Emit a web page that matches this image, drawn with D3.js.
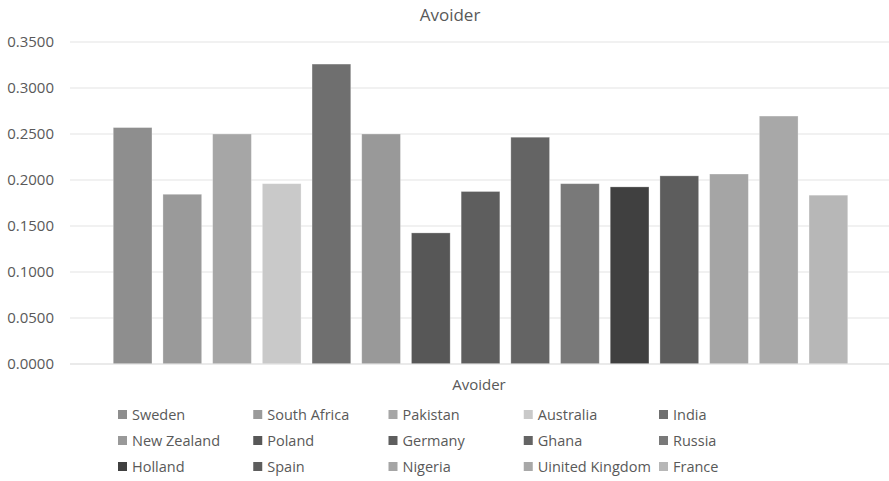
<!DOCTYPE html>
<html>
<head>
<meta charset="utf-8">
<script src="https://cdn.jsdelivr.net/npm/d3@7"></script>
<style>
  html, body { margin: 0; padding: 0; background: #fff; }
  svg { display: block; font-family: "Open Sans", "Noto Sans", sans-serif; }
</style>
</head>
<body>
<svg id="chart" width="889" height="481"></svg>
<script>
// Avoider share by country
const countries = ["Sweden", "South Africa", "Pakistan", "Australia", "India",
  "New Zealand", "Poland", "Germany", "Ghana", "Russia",
  "Holland", "Spain", "Nigeria", "Uinited Kingdom", "France"];
const values = [0.2570, 0.1845, 0.2500, 0.1960, 0.3260,
  0.2500, 0.1425, 0.1875, 0.2465, 0.1960,
  0.1925, 0.2045, 0.2065, 0.2695, 0.1835];
const shades = ["#8e8e8e", "#9a9a9a", "#a6a6a6", "#c9c9c9", "#6f6f6f",
  "#999999", "#575757", "#5e5e5e", "#646464", "#797979",
  "#404040", "#5d5d5d", "#a5a5a5", "#a8a8a8", "#b7b7b7"];
const yTicks = [0, 0.05, 0.10, 0.15, 0.20, 0.25, 0.30, 0.35];
const chartTitle = "Avoider";
const categoryLabel = "Avoider";

const svg = d3.select("#chart");
const plot = { left: 70, right: 889, top: 42, bottom: 364 };
const textColor = "#595959";

const y = d3.scaleLinear().domain([0, 0.35]).range([plot.bottom, plot.top]);
const x = d3.scaleBand().domain(countries).range([plot.left + 2, plot.right])
  .paddingInner(0.221).paddingOuter(0.83);

// title
svg.append("text")
  .attr("x", 450).attr("y", 21)
  .attr("text-anchor", "middle")
  .attr("fill", textColor)
  .style("font-size", "17px")
  .text(chartTitle);

// gridlines
svg.append("g")
  .selectAll("line")
  .data(yTicks)
  .join("line")
  .attr("x1", plot.left).attr("x2", plot.right)
  .attr("y1", d => y(d)).attr("y2", d => y(d))
  .attr("stroke", "#e3e3e3")
  .attr("stroke-width", 1.2);

// y axis labels
const yAxis = d3.axisLeft(y).tickValues(yTicks).tickFormat(d3.format(".4f")).tickSize(0).tickPadding(0);
const gy = svg.append("g").attr("transform", `translate(54,0)`).call(yAxis);
gy.select(".domain").remove();
gy.selectAll("text")
  .attr("fill", textColor)
  .style("font-size", "15px")
  .style("font-family", "\"Open Sans\", \"Noto Sans\", sans-serif");

// bars
svg.append("g")
  .selectAll("rect")
  .data(countries)
  .join("rect")
  .attr("x", d => x(d))
  .attr("width", x.bandwidth())
  .attr("y", (d, i) => y(values[i]))
  .attr("height", (d, i) => y(0) - y(values[i]))
  .attr("fill", (d, i) => shades[i])
  .attr("stroke", "#ffffff")
  .attr("stroke-opacity", 0.35)
  .attr("stroke-width", 0.8);

// zero baseline drawn over the bar bottoms
svg.append("line")
  .attr("x1", plot.left).attr("x2", plot.right)
  .attr("y1", y(0)).attr("y2", y(0))
  .attr("stroke", "#e3e3e3").attr("stroke-width", 1.2);

// category label
svg.append("text")
  .attr("x", 479).attr("y", 390)
  .attr("text-anchor", "middle")
  .attr("fill", textColor)
  .style("font-size", "15px")
  .text(categoryLabel);

// legend: 5 columns, 3 rows
const legend = svg.append("g");
const colX = d3.scalePoint().domain(d3.range(5)).range([118, 659]);
const rowY = d3.scalePoint().domain(d3.range(3)).range([415, 467]);
const items = legend.selectAll("g")
  .data(countries)
  .join("g")
  .attr("transform", (d, i) => `translate(${colX(i % 5)},${rowY(Math.floor(i / 5))})`);
items.append("rect")
  .attr("x", 0).attr("y", -5)
  .attr("width", 9).attr("height", 9)
  .attr("fill", (d, i) => shades[i]);
items.append("text")
  .attr("x", 14).attr("y", 0)
  .attr("dy", "0.35em")
  .attr("fill", textColor)
  .style("font-size", "14.5px")
  .text(d => d);
</script>
</body>
</html>
